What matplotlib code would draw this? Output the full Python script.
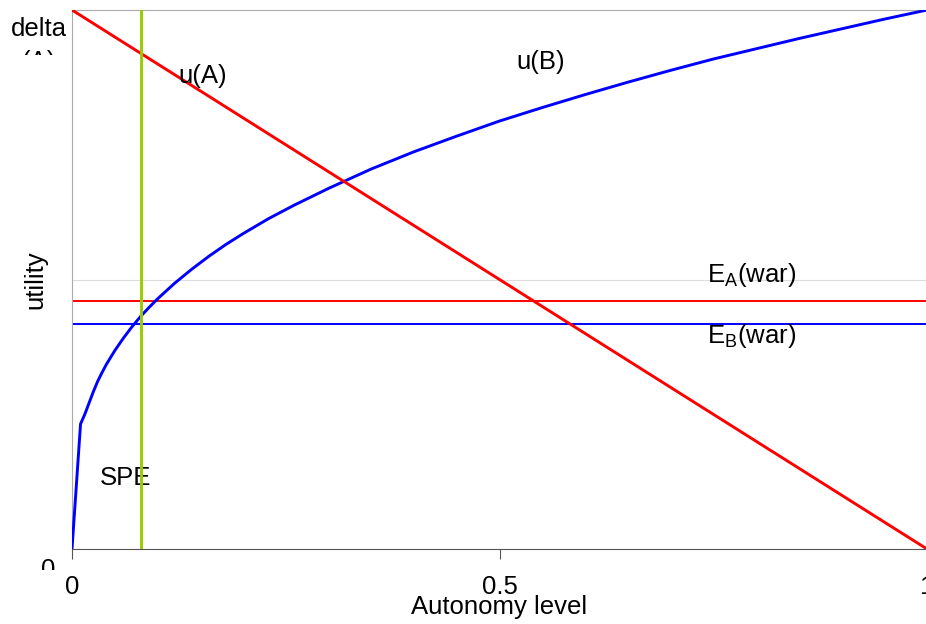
import matplotlib
matplotlib.use("Agg")
import matplotlib.pyplot as plt
from matplotlib.transforms import Bbox

plt.rcParams['font.family'] = ['Liberation Sans', 'DejaVu Sans']

# autonomy level and utilities
autonomy = [0, 0.01, 0.015, 0.02, 0.025, 0.03, 0.035, 0.04, 0.05, 0.06, 0.07,
            0.08, 0.09, 0.10, 0.12, 0.14, 0.16, 0.18, 0.20, 0.23, 0.26, 0.30,
            0.35, 0.40, 0.45, 0.50, 0.55, 0.60, 0.65, 0.70, 0.75, 0.80, 0.85,
            0.90, 0.95, 1.0]
u_b = [0, 0.232, 0.250, 0.271, 0.292, 0.311, 0.327, 0.342, 0.368, 0.391, 0.412,
       0.431, 0.448, 0.464, 0.493, 0.519, 0.543, 0.565, 0.585, 0.613, 0.638, 0.669,
       0.705, 0.737, 0.766, 0.794, 0.819, 0.843, 0.866, 0.888, 0.909, 0.928, 0.947,
       0.965, 0.983, 1.0]
u_a_x = [0, 1]
u_a = [1, 0]
e_a_war = 0.46
e_b_war = 0.417
spe = 0.081

x_ticks = [0, 0.5, 1]
x_tick_labels = ["0", "0.5", "1"]

W, H = 926, 624
fig = plt.figure(figsize=(W / 100, H / 100), dpi=100)
ax = fig.add_axes([72 / W, 1 - 549 / H, 855 / W, 539 / H])
ax.set_xlim(0, 1)
ax.set_ylim(0, 1)

fs = 18.5
ax.axhline(0.5, color="#dddddd", lw=0.8, zorder=1)
ax.axhline(e_a_war, color="#ff0000", lw=1.4, zorder=2)
ax.axhline(e_b_war, color="#0000ff", lw=1.4, zorder=2)
ax.plot(autonomy, u_b, color="#0000ff", lw=2.1, zorder=3)
ax.plot(u_a_x, u_a, color="#ff0000", lw=2.1, zorder=3)
ax.axvline(spe, color="#99cc00", lw=2.1, zorder=4)

ax.text(0.153, 0.878, "u(A)", fontsize=fs, ha="center", va="center")
ax.text(0.548, 0.904, "u(B)", fontsize=fs, ha="center", va="center")
ax.text(0.795, 0.508, r"E$_\mathregular{A}$(war)", fontsize=fs, ha="center", va="center")
ax.text(0.795, 0.395, r"E$_\mathregular{B}$(war)", fontsize=fs, ha="center", va="center")
ax.text(0.063, 0.132, "SPE", fontsize=fs, ha="center", va="center")

for s in ["left", "top"]:
    ax.spines[s].set_color("#aaaaaa")
ax.spines["right"].set_visible(False)
ax.spines["bottom"].set_color("#555555")

ax.set_xticks(x_ticks)
ax.set_xticklabels(x_tick_labels, fontsize=fs)
ax.tick_params(axis="x", length=7, color="#555555", pad=12)
ax.set_yticks([])
ax.set_xlabel("Autonomy level", fontsize=fs, labelpad=-3)
ax.set_ylabel("utility", fontsize=fs, labelpad=18)

# y labels are cut off at the bottom in the original
t1 = fig.text(39 / W, 1 - 17 / H, "delta\n(A)", fontsize=fs, ha="center", va="top",
              linespacing=1.45)
t1.set_clip_box(Bbox.from_extents(0, H - 55, 72, H))
t1.set_clip_on(True)
t2 = fig.text(48 / W, 1 - 558 / H, "0", fontsize=fs, ha="center", va="top")
t2.set_clip_box(Bbox.from_extents(0, H - 570, 72, H))
t2.set_clip_on(True)

fig.savefig("out.png", dpi=100)
